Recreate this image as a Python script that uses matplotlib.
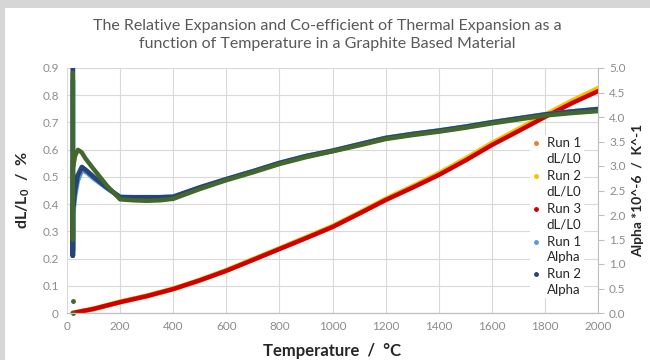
import matplotlib
matplotlib.use("Agg")
import matplotlib.pyplot as plt
from matplotlib.legend_handler import HandlerLine2D
from matplotlib.lines import Line2D
from matplotlib.patches import Rectangle

plt.rcParams["font.family"] = ["Lato", "DejaVu Sans"]
plt.rcParams["mathtext.fontset"] = "custom"
plt.rcParams["mathtext.rm"] = "Lato:bold"

# dL/L0 (%) against temperature (degC)
temps_dl = [22, 100, 200, 300, 400, 500, 600, 700, 800, 900, 1000,
            1100, 1200, 1300, 1400, 1500, 1600, 1700, 1800, 1900, 2000]
run1_dl = [0, 0.015, 0.040, 0.062, 0.088, 0.120, 0.156, 0.196, 0.236, 0.276, 0.317,
           0.366, 0.417, 0.462, 0.510, 0.563, 0.620, 0.672, 0.724, 0.774, 0.820]
run2_dl = [0, 0.015, 0.041, 0.063, 0.089, 0.121, 0.157, 0.197, 0.237, 0.278, 0.319,
           0.368, 0.419, 0.465, 0.513, 0.567, 0.624, 0.676, 0.728, 0.779, 0.826]
run3_dl = [0, 0.015, 0.040, 0.062, 0.088, 0.120, 0.155, 0.195, 0.235, 0.275, 0.316,
           0.365, 0.415, 0.460, 0.507, 0.560, 0.617, 0.668, 0.720, 0.770, 0.815]

# alpha (*10^-6 / K) against temperature, first points are the start-up spike
temps_alpha = [22, 22, 22, 24, 30, 40, 56, 75, 100, 150, 200, 250, 300, 350, 400,
               500, 600, 700, 800, 900, 1000, 1100, 1200, 1300, 1400, 1500,
               1600, 1700, 1800, 1900, 2000]
run1_alpha = [4.75, 1.28, 2.1, 2.1, 2.4, 2.7, 2.92, 2.87, 2.75, 2.55, 2.37, 2.36, 2.36, 2.36, 2.37,
              2.56, 2.73, 2.89, 3.06, 3.20, 3.31, 3.44, 3.57, 3.65, 3.72, 3.80,
              3.89, 3.97, 4.05, 4.11, 4.16]
run2_alpha = [5.0, 1.17, 2.2, 2.2, 2.5, 2.8, 2.98, 2.9, 2.78, 2.56, 2.36, 2.36, 2.36, 2.36, 2.37,
              2.56, 2.73, 2.89, 3.06, 3.20, 3.31, 3.44, 3.57, 3.65, 3.72, 3.80,
              3.89, 3.97, 4.05, 4.11, 4.16]
temps_alpha3 = [22, 22, 22, 24, 30, 41, 55, 70, 100, 150, 200, 250, 300, 350, 400,
                500, 600, 700, 800, 900, 1000, 1100, 1200, 1300, 1400, 1500,
                1600, 1700, 1800, 1900, 2000]
run3_alpha = [4.9, 1.5, 3.0, 3.0, 3.2, 3.33, 3.28, 3.15, 2.94, 2.6, 2.32, 2.3, 2.29, 2.3, 2.33,
              2.53, 2.71, 2.87, 3.04, 3.18, 3.30, 3.42, 3.55, 3.63, 3.70, 3.78,
              3.87, 3.95, 4.03, 4.08, 4.12]
run3_outlier_t = [22, 22]
run3_outlier_alpha = [0.25, 0.0]

x_ticks = list(range(0, 2001, 200))
left_ticks = [0, 0.1, 0.2, 0.3, 0.4, 0.5, 0.6, 0.7, 0.8, 0.9]
left_labels = ["0", "0.1", "0.2", "0.3", "0.4", "0.5", "0.6", "0.7", "0.8", "0.9"]
right_ticks = [0, 0.5, 1.0, 1.5, 2.0, 2.5, 3.0, 3.5, 4.0, 4.5, 5.0]
legend_labels = ["Run 1\ndL/L0", "Run 2\ndL/L0", "Run 3\ndL/L0", "Run 1\nAlpha", "Run 2\nAlpha"]

c_orange = "#ed7d31"
c_yellow = "#ffc000"
c_red = "#d00000"
c_lblue = "#5b9bd5"
c_navy = "#264478"
c_green = "#43682b"
grid_c = "#d9d9d9"
tick_c = "#8c8c8c"
label_c = "#262626"
frame_c = "#d6d6d6"


class FirstLineHandler(HandlerLine2D):
    # put the legend dot next to the first line of a two-line label
    def create_artists(self, legend, orig_handle, xdescent, ydescent, width, height,
                       fontsize, trans):
        artists = super().create_artists(legend, orig_handle, xdescent, ydescent,
                                         width, height, fontsize, trans)
        for a in artists:
            a.set_ydata([y + 0.62 * fontsize for y in a.get_ydata()])
        return artists


fig = plt.figure(figsize=(6.5, 3.6), dpi=100, facecolor="white")
# grey frame strips along the top and left edge
fig.patches.append(Rectangle((0, (360 - 8) / 360), 1, 8 / 360, transform=fig.transFigure,
                             facecolor=frame_c, edgecolor="none"))
fig.patches.append(Rectangle((0, 0), 5 / 650, 1, transform=fig.transFigure,
                             facecolor=frame_c, edgecolor="none"))
ax = fig.add_axes([67 / 650, 47 / 360, 531 / 650, 245 / 360])
ax2 = ax.twinx()

ax.plot(temps_dl, run1_dl, color=c_orange, lw=3.4, solid_capstyle="round")
ax.plot(temps_dl, run2_dl, color=c_yellow, lw=3.4, solid_capstyle="round")
ax.plot(temps_dl, run3_dl, color=c_red, lw=3.2, solid_capstyle="round")

ax2.plot(temps_alpha, run1_alpha, color=c_lblue, lw=3.6, solid_capstyle="round")
ax2.plot(temps_alpha, run2_alpha, color=c_navy, lw=3.4, solid_capstyle="round")
ax2.plot(temps_alpha3, run3_alpha, color=c_green, lw=3.2, solid_capstyle="round")
ax2.plot(run3_outlier_t, run3_outlier_alpha, "o", color=c_green, ms=2.5, clip_on=False)

ax.set_xlim(0, 2000)
ax.set_ylim(0, 0.9)
ax2.set_ylim(0, 5)
ax.set_xticks(x_ticks)
ax.set_yticks(left_ticks)
ax.set_yticklabels(left_labels)
ax2.set_yticks(right_ticks)
ax2.set_yticklabels([f"{v:.1f}" for v in right_ticks])
ax.grid(True, color=grid_c, lw=0.8)
ax.set_axisbelow(True)

for a in (ax, ax2):
    for s in ("top", "left", "right"):
        a.spines[s].set_visible(False)
    a.spines["bottom"].set_color("#bfbfbf")
ax2.spines["right"].set_visible(True)
ax2.spines["right"].set_color("#bfbfbf")
ax.tick_params(axis="both", length=0, labelsize=8.5, colors=tick_c, pad=6)
ax2.tick_params(axis="y", length=4, color="#bfbfbf", labelsize=8.5, labelcolor=tick_c, pad=4)

ax.set_xlabel("Temperature  /  °C", fontsize=12, fontweight="bold", color=label_c, labelpad=8)
ax.set_ylabel(r"dL/L$_\mathregular{0}$  /  %", fontsize=11.5, fontweight="bold", color=label_c, labelpad=7)
ax2.set_ylabel("Alpha *10^-6  /  K^-1", fontsize=10, fontweight="bold", color=label_c, labelpad=5)

fig.text(0.503, 0.948, "The Relative Expansion and Co-efficient of Thermal Expansion as a\n"
         "function of Temperature in a Graphite Based Material",
         ha="center", va="top", fontsize=11.5, color="#595959", linespacing=1.4)

handles = [Line2D([], [], ls="none", marker="o", ms=2.5, color=c) for c in
           (c_orange, c_yellow, c_red, c_lblue, c_navy)]
leg = ax2.legend(handles, legend_labels, loc="upper left",
                 bbox_to_anchor=(523 / 650, 1 - 128 / 360),
                 bbox_transform=fig.transFigure, frameon=True, framealpha=1, edgecolor="none",
                 facecolor="white", fontsize=9.5, handlelength=0.6, handletextpad=0.5,
                 labelspacing=0.4, borderpad=0.2, fancybox=False,
                 handler_map={Line2D: FirstLineHandler()})
for t in leg.get_texts():
    t.set_color(label_c)
    t.set_linespacing(1.35)

plt.savefig("out.png", dpi=100)
plt.close()
